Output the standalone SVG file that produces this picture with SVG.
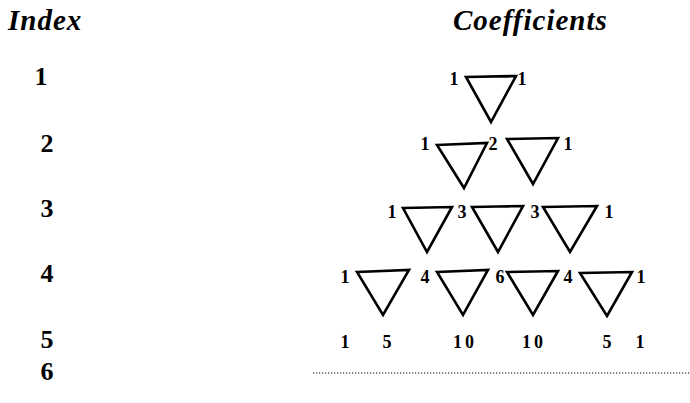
<svg xmlns="http://www.w3.org/2000/svg" width="690" height="403" viewBox="0 0 690 403">
<style>
.hd{font-family:"Liberation Serif","Times New Roman",Times,serif;font-weight:bold;font-style:italic;font-size:29px;letter-spacing:1px;fill:#000}
.ix{font-family:"Liberation Serif","Times New Roman",Times,serif;font-weight:bold;font-size:26px;fill:#000;text-anchor:middle}
.c{font-family:"Liberation Serif","Times New Roman",Times,serif;font-weight:bold;font-size:18px;fill:#000;text-anchor:middle}
.c5{font-family:"Liberation Serif","Times New Roman",Times,serif;font-weight:bold;font-size:18px;letter-spacing:3px;fill:#000;text-anchor:middle}
.t{fill:none;stroke:#000;stroke-width:2.6;stroke-linejoin:miter}
</style>
<rect width="690" height="403" fill="#fff"/>
<g id="headers">
<text class="hd" x="8" y="30">Index</text>
<text class="hd" x="453" y="30">Coefficients</text>
</g>
<g id="index">
<text class="ix" x="41" y="85">1</text>
<text class="ix" x="47" y="152">2</text>
<text class="ix" x="47" y="217">3</text>
<text class="ix" x="47" y="282">4</text>
<text class="ix" x="47" y="348">5</text>
<text class="ix" x="47" y="380">6</text>
</g>
<g id="connectors">
<polygon class="t" points="466,77 516,76 491,122"/>
<polygon class="t" points="437,145 487,143 464,188"/>
<polygon class="t" points="507,139 558,138 533,184"/>
<polygon class="t" points="403,208 452,207 427,252"/>
<polygon class="t" points="472,207 523,206 498,252"/>
<polygon class="t" points="543,207 597,206 570,252"/>
<polygon class="t" points="357,272 409,270 383,315"/>
<polygon class="t" points="437,272 488,270 463,315"/>
<polygon class="t" points="507,272 558,271 533,315"/>
<polygon class="t" points="580,273 632,272 607,316"/>
</g>
<g id="row1">
<text class="c" x="454" y="85">1</text>
<text class="c" x="522" y="85">1</text>
</g>
<g id="row2">
<text class="c" x="425" y="150">1</text>
<text class="c" x="493" y="150">2</text>
<text class="c" x="568" y="150">1</text>
</g>
<g id="row3">
<text class="c" x="392" y="218">1</text>
<text class="c" x="462" y="218">3</text>
<text class="c" x="535" y="218">3</text>
<text class="c" x="609" y="218">1</text>
</g>
<g id="row4">
<text class="c" x="345" y="283">1</text>
<text class="c" x="425" y="283">4</text>
<text class="c" x="500" y="283">6</text>
<text class="c" x="568" y="283">4</text>
<text class="c" x="641" y="283">1</text>
</g>
<g id="row5">
<text class="c" x="345" y="348">1</text>
<text class="c" x="387" y="348">5</text>
<text class="c5" x="465" y="348">10</text>
<text class="c5" x="534" y="348">10</text>
<text class="c" x="607" y="348">5</text>
<text class="c" x="640" y="348">1</text>
</g>
<g id="row6">
<line x1="313" y1="373" x2="690" y2="373" stroke="#000" stroke-width="1.2" stroke-dasharray="1.2,1.8"/>
</g>
</svg>
